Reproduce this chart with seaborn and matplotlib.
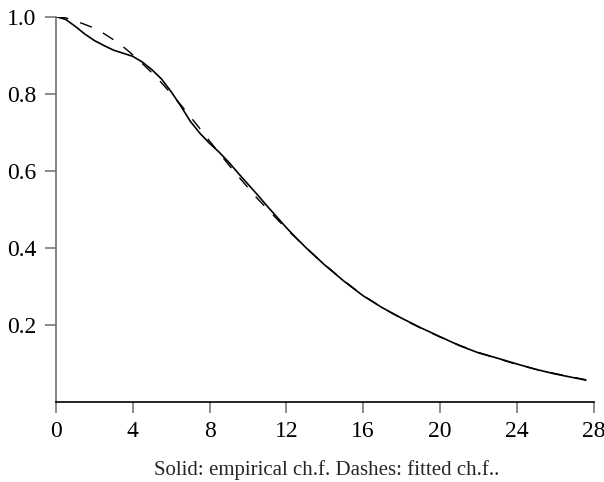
import numpy as np
import pandas as pd
import matplotlib
matplotlib.use("Agg")
import matplotlib.pyplot as plt
import seaborn as sns

# ── Data ──────────────────────────────────────────────────────────────────────
t_values = [0, 0.5, 1, 1.5, 2, 2.5, 3, 3.5, 4, 4.5, 5, 5.5, 6, 6.5, 7, 7.5,
            8, 8.5, 9, 9.5, 10, 10.5, 11, 11.5, 12, 12.5, 13, 13.5, 14, 15,
            16, 17, 18, 19, 20, 21, 22, 23, 24, 25, 26, 27, 27.6]

empirical_cf = [1.000, 0.993, 0.975, 0.955, 0.938, 0.925, 0.913, 0.905, 0.897,
                0.882, 0.862, 0.838, 0.805, 0.768, 0.728, 0.697, 0.671, 0.648,
                0.622, 0.593, 0.565, 0.537, 0.508, 0.480, 0.452, 0.426, 0.401,
                0.378, 0.355, 0.313, 0.275, 0.244, 0.217, 0.192, 0.169, 0.146,
                0.127, 0.113, 0.098, 0.084, 0.072, 0.062, 0.056]

fitted_cf = [1.000, 0.997, 0.989, 0.980, 0.970, 0.956, 0.940, 0.922, 0.901,
             0.878, 0.854, 0.828, 0.800, 0.771, 0.740, 0.709, 0.677, 0.646,
             0.615, 0.585, 0.556, 0.527, 0.501, 0.475, 0.449, 0.425, 0.401,
             0.378, 0.356, 0.314, 0.276, 0.244, 0.216, 0.191, 0.168, 0.147,
             0.128, 0.112, 0.097, 0.084, 0.073, 0.063, 0.057]

x_ticks = [0, 4, 8, 12, 16, 20, 24, 28]
y_ticks = [0.2, 0.4, 0.6, 0.8, 1.0]
caption = "Solid: empirical ch.f. Dashes: fitted ch.f.."

df = pd.DataFrame({"t": t_values, "empirical": empirical_cf, "fitted": fitted_cf})

# ── Style ────────────────────────────────────────────────────────────────────
sns.set_style("ticks")
plt.rcParams["font.family"] = ["Liberation Serif", "DejaVu Serif"]

fig = plt.figure(figsize=(6.04, 4.82), dpi=100)
ax = fig.add_axes([0.0927, 0.1666, 0.890, 0.7988])

sns.lineplot(data=df, x="t", y="empirical", ax=ax, color="black", lw=1.2)
sns.lineplot(data=df, x="t", y="fitted", ax=ax, color="black", lw=1.0,
             linestyle=(0, (9, 9)))

ax.set_xlim(0, 28)
ax.set_ylim(0, 1.0)
ax.set_xticks(x_ticks)
ax.set_xticklabels([str(v) for v in x_ticks])
ax.set_yticks(y_ticks)
ax.set_yticklabels([f"{v:.1f}" for v in y_ticks])
ax.set_xlabel("")
ax.set_ylabel("")

sns.despine(ax=ax)
ax.spines["left"].set_color("#6e6e6e")
ax.spines["bottom"].set_color("black")
ax.spines["left"].set_linewidth(1.2)
ax.spines["bottom"].set_linewidth(1.2)
ax.tick_params(axis="both", direction="out", length=8, width=1.1,
               color="#6e6e6e", labelsize=17, pad=6, labelcolor="black")

fig.text(0.541, 0.0145, caption, ha="center", va="baseline", fontsize=15)

fig.savefig("out.png", dpi=100)
